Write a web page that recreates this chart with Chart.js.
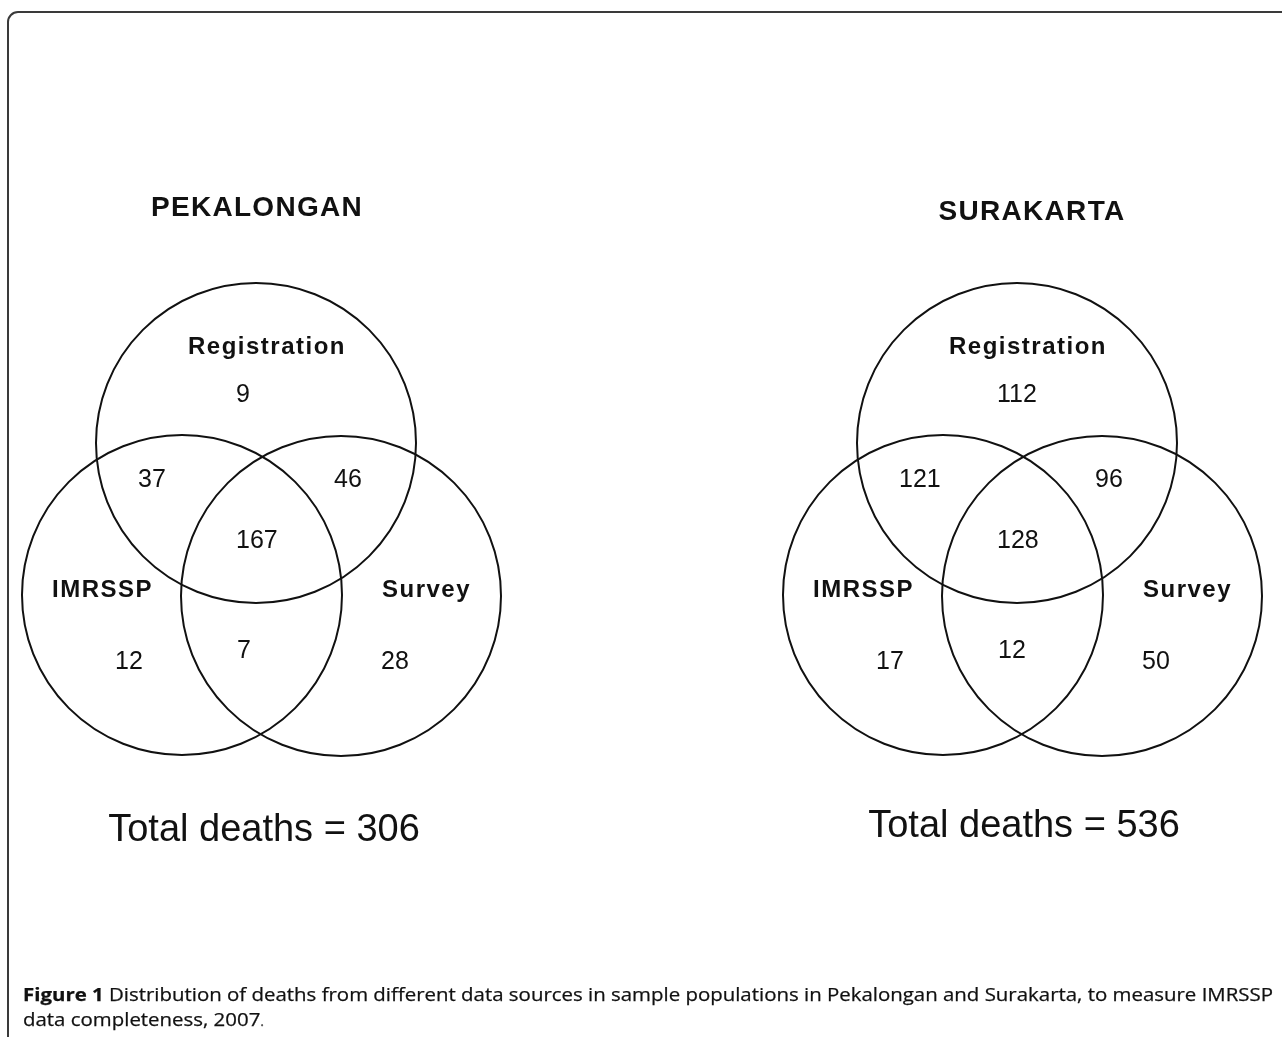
<!DOCTYPE html>
<html>
<head>
<meta charset="utf-8">
<script src="https://cdn.jsdelivr.net/npm/chart.js@4/dist/chart.umd.min.js"></script>
<style>
  body { margin: 0; background: #fff; }
  #wrap { position: relative; width: 1282px; height: 1037px; overflow: hidden; }
  #frame { position: absolute; left: 7px; top: 11px; width: 1300px; height: 1100px;
           border: 2px solid #3a3a3a; border-radius: 11px; box-sizing: border-box; }
  #chartBox { position: absolute; left: 0; top: 0; width: 1282px; height: 1037px; }
  #caption { position: absolute; left: 23px; top: 981px; font-family: "Open Sans", sans-serif;
             font-size: 18.5px; line-height: 25px; color: #111; white-space: nowrap;
             -webkit-text-stroke: 0.25px #111; }
  #caption span.line { display: inline-block; transform-origin: 0 0; }
  #caption b { font-weight: 700; }
</style>
</head>
<body>
<div id="wrap">
  <div id="frame"></div>
  <div id="chartBox"><canvas id="venn"></canvas></div>
  <div id="caption">
    <span class="line" id="cap1"><b>Figure 1</b> Distribution of deaths from different data sources in sample populations in Pekalongan and Surakarta, to measure IMRSSP</span><br>
    <span class="line" id="cap2">data completeness, 2007<span style="font-size:13px;color:#666">.</span></span>
  </div>
</div>
<script>
// data
var sites = ["PEKALONGAN", "SURAKARTA"];
var sources = ["Registration", "IMRSSP", "Survey"];
var regions = ["Registration only", "Registration + IMRSSP", "Registration + Survey", "All three",
               "IMRSSP only", "IMRSSP + Survey", "Survey only"];
var pekalonganDeaths = [9, 37, 46, 167, 12, 7, 28];
var surakartaDeaths = [112, 121, 96, 128, 17, 12, 50];
var siteDeaths = [pekalonganDeaths, surakartaDeaths];

// layout (page pixel units, left panel; right panel is shifted)
var panelShift = [0, 761];
var circleRadius = 160;
var circlePos = [[256, 443], [182, 595], [341, 596]];
var sourceLabelPos = [[188, 347], [52, 590], [382, 590]];
var regionLabelPos = [[236, 395], [138, 480], [334, 480], [236, 541], [115, 662], [237, 651], [381, 662]];
var titlePos = [[257, 208], [1032, 212]];
var totalPos = [[264, 831], [1024, 827]];

var FONT = '"Liberation Sans", Arial, sans-serif';

var datasets = [];
sites.forEach(function(site, p) {
  sources.forEach(function(src, i) {
    datasets.push({
      label: site + ' ' + src,
      data: [{x: circlePos[i][0] + panelShift[p], y: circlePos[i][1]}],
      backgroundColor: 'rgba(0,0,0,0)',
      borderColor: '#111',
      borderWidth: 2,
      pointRadius: function(ctx) {
        var xs = ctx.chart.scales.x;
        return xs ? Math.abs(xs.getPixelForValue(circleRadius) - xs.getPixelForValue(0)) : circleRadius;
      },
      pointHoverRadius: function(ctx) {
        var xs = ctx.chart.scales.x;
        return xs ? Math.abs(xs.getPixelForValue(circleRadius) - xs.getPixelForValue(0)) : circleRadius;
      }
    });
  });
});

var vennLabels = {
  id: 'vennLabels',
  afterDatasetsDraw: function(chart) {
    var ctx = chart.ctx, xs = chart.scales.x, ys = chart.scales.y;
    function put(txt, x, y, font, align, spacing) {
      ctx.font = font;
      ctx.textAlign = align;
      ctx.letterSpacing = spacing || '0px';
      ctx.fillText(txt, xs.getPixelForValue(x), ys.getPixelForValue(y));
    }
    ctx.save();
    ctx.fillStyle = '#111';
    ctx.textBaseline = 'middle';
    sites.forEach(function(site, p) {
      var dx = panelShift[p];
      put(site, titlePos[p][0], titlePos[p][1], 'bold 28px ' + FONT, 'center', '1.3px');
      sources.forEach(function(src, i) {
        put(src, sourceLabelPos[i][0] + dx, sourceLabelPos[i][1], 'bold 24px ' + FONT, 'left', '1.5px');
      });
      siteDeaths[p].forEach(function(v, r) {
        put(String(v), regionLabelPos[r][0] + dx, regionLabelPos[r][1], '25px ' + FONT, 'left', '0px');
      });
      var total = siteDeaths[p].reduce(function(a, b) { return a + b; }, 0);
      put('Total deaths = ' + total, totalPos[p][0], totalPos[p][1], '38px ' + FONT, 'center', '0px');
    });
    ctx.restore();
  }
};

new Chart(document.getElementById('venn').getContext('2d'), {
  type: 'scatter',
  data: { datasets: datasets },
  options: {
    responsive: true,
    maintainAspectRatio: false,
    animation: false,
    layout: { padding: 0 },
    scales: {
      x: { type: 'linear', min: 0, max: 1282, display: false },
      y: { type: 'linear', min: 0, max: 1037, reverse: true, display: false }
    },
    plugins: { legend: { display: false }, tooltip: { enabled: false } },
    events: []
  },
  plugins: [vennLabels]
});

// fit caption line width to the figure
var cap1 = document.getElementById('cap1'), cap2 = document.getElementById('cap2');
var k = 1250 / cap1.getBoundingClientRect().width;
cap1.style.transform = 'scaleX(' + k + ')';
cap2.style.transform = 'scaleX(' + k + ')';
</script>
</body>
</html>
